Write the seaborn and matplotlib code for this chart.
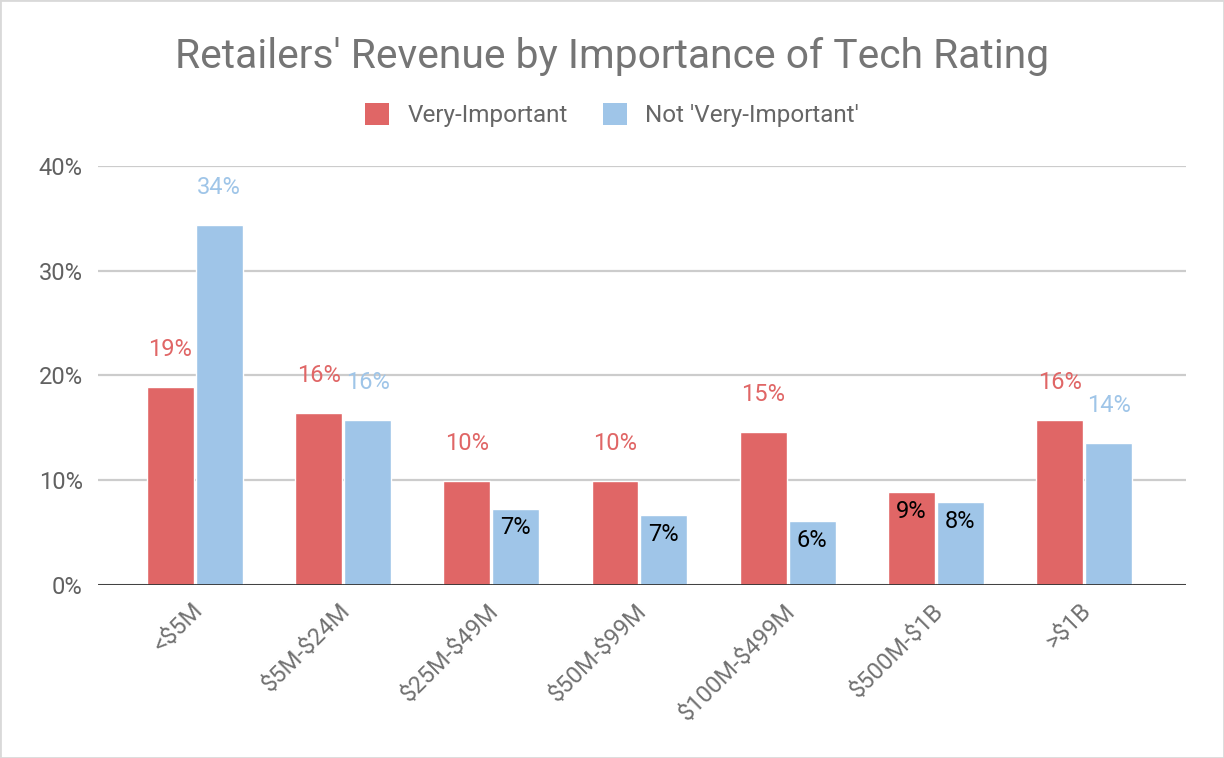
import matplotlib
matplotlib.use("Agg")
import matplotlib.pyplot as plt
from matplotlib.patches import Patch, Rectangle
from matplotlib.transforms import ScaledTranslation
import seaborn as sns
import pandas as pd

categories = ["<$5M", "$5M-$24M", "$25M-$49M", "$50M-$99M", "$100M-$499M", "$500M-$1B", ">$1B"]
very_important = [18.9, 16.4, 9.9, 9.9, 14.6, 8.9, 15.7]
not_very_important = [34.4, 15.7, 7.3, 6.7, 6.1, 7.9, 13.6]
series_names = ["Very-Important", "Not 'Very-Important'"]
y_ticks = [0, 10, 20, 30, 40]
y_tick_labels = ["0%", "10%", "20%", "30%", "40%"]
title = "Retailers' Revenue by Importance of Tech Rating"

colors = ["#e06666", "#9fc5e8"]

sns.set_theme(style="white")
plt.rcParams['font.family'] = ['Roboto', 'DejaVu Sans']
plt.rcParams['text.parse_math'] = False

df = pd.DataFrame({
    "Revenue": categories * 2,
    "Share": very_important + not_very_important,
    "Rating": [series_names[0]] * len(categories) + [series_names[1]] * len(categories),
})

fig = plt.figure(figsize=(12.24, 7.58), dpi=100)
ax = fig.add_axes([0.080, 0.2282, 0.889, 0.553])
sns.barplot(data=df, x="Revenue", y="Share", hue="Rating", order=categories,
            hue_order=series_names, palette=colors, saturation=1, width=0.66,
            gap=0.04, ax=ax, legend=False, errorbar=None)

ax.set_xlim(-0.654, len(categories) - 1 + 0.688)
ax.set_ylim(0, 40)
ax.set_yticks(y_ticks)
ax.set_yticklabels(y_tick_labels)
ax.set_xlabel("")
ax.set_ylabel("")
for s in ax.spines.values():
    s.set_visible(False)
ax.yaxis.grid(True, color="#cccccc", lw=1.6)
ax.set_axisbelow(True)
ax.axhline(0, color="#333333", lw=2, zorder=5)
ax.tick_params(axis="both", length=0)
ax.tick_params(axis="y", labelsize=17, labelcolor="#616161", pad=11)
ax.tick_params(axis="x", labelsize=17, labelcolor="#717171", pad=22)
shift = ScaledTranslation(0.12, 0, fig.dpi_scale_trans)
for lab in ax.get_xticklabels():
    lab.set_rotation(45)
    lab.set_ha("right")
    lab.set_va("bottom")
    lab.set_rotation_mode("anchor")
    lab.set_transform(lab.get_transform() + shift)

for ci, cont in enumerate(ax.containers):
    for bar in cont:
        v = bar.get_height()
        txt = f"{int(v + 0.5)}%"
        x = bar.get_x() + bar.get_width() / 2
        if v < 9.5:
            ax.annotate(txt, (x, v), xytext=(0, -14), textcoords="offset points",
                        ha="center", va="center", fontsize=17, color="black", zorder=6)
        else:
            ax.annotate(txt, (x, v), xytext=(0, 27), textcoords="offset points",
                        ha="center", va="center", fontsize=17, color=colors[ci], zorder=6)

handles = [Patch(facecolor=c, edgecolor="none") for c in colors]
fig.legend(handles, series_names, loc="center", bbox_to_anchor=(0.5, 0.848), ncol=2,
           frameon=False, fontsize=17.5, labelcolor="#666666", handlelength=1.0,
           handleheight=1.0, handletextpad=0.75, columnspacing=1.45)

fig.text(0.5, 0.925, title, ha="center", va="center", fontsize=29.3, color="#757575")

fig.patches.append(Rectangle((0, 0), 1, 1, transform=fig.transFigure, fill=False,
                             edgecolor="#d9d9d9", lw=2))

fig.savefig("out.png", dpi=100)
